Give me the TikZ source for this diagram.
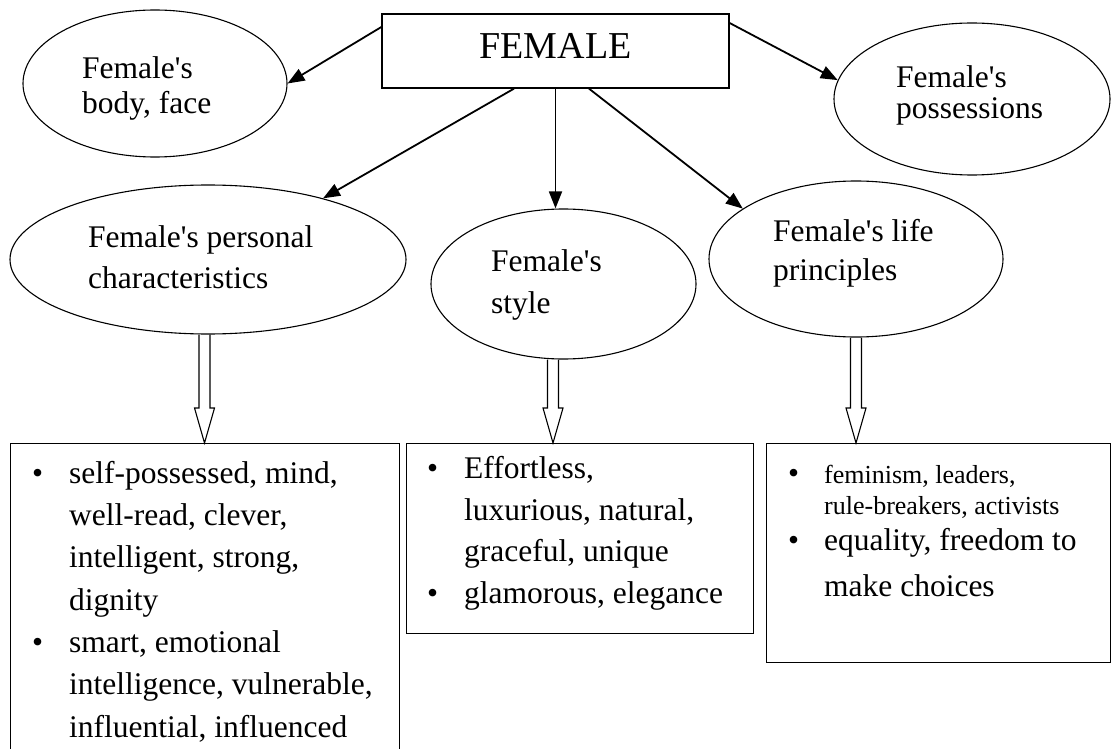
\documentclass[tikz,border=0pt]{standalone}
\usepackage{fontspec}
\setmainfont{Liberation Serif}
\usetikzlibrary{shapes.geometric, arrows.meta, calc, positioning}
\tikzset{
    oval/.style={ellipse, draw, line width=1.1pt, inner sep=0pt},
    hub/.style={rectangle, draw, line width=1.3pt, inner sep=0pt},
    listbox/.style={rectangle, draw, line width=1.3pt, inner sep=0pt, anchor=north west},
    lbl/.style={anchor=base west, align=left, inner sep=0pt},% base = last line
    link/.style={line width=1.8pt, -{Triangle[length=17pt,width=13pt]}},
    hollow arrow/.style={line width=1.1pt},
    }
\newcommand{\bul}{\makebox[37pt][l]{\textbullet}}
\newcommand{\ind}{\hspace*{37pt}}
\newcommand{\fem}{Female\textquotesingle s}

\begin{document}
\begin{tikzpicture}[x=1pt, y=-1pt]
\useasboundingbox (0,0) rectangle (1112,749);

% top box and the five ovals
\node[hub, minimum width=347pt, minimum height=74pt, text depth=10pt,
      font=\fontsize{38}{40}\selectfont] (female) at (555.5,51) {FEMALE};
\node[oval, minimum width=264pt, minimum height=147pt] (body) at (155,83.5) {};
\node[oval, minimum width=276pt, minimum height=152pt] (poss) at (972,99) {};
\node[oval, minimum width=396pt, minimum height=149pt] (pers) at (208,259.5) {};
\node[oval, minimum width=265pt, minimum height=150pt] (style) at (563.5,284) {};
\node[oval, minimum width=294pt, minimum height=156pt] (life) at (856,259) {};

\node[lbl, font=\fontsize{31.5}{35}\selectfont] (bodytxt) at (82,114) {\fem\\body, face};
\node[lbl, font=\fontsize{31.5}{31}\selectfont] (posstxt) at (896,119) {\fem\\possessions};
\node[lbl, font=\fontsize{31.5}{41}\selectfont] (perstxt) at (88,288) {\fem{} personal\\characteristics};
\node[lbl, font=\fontsize{31.5}{42}\selectfont] (styletxt) at (491,313) {\fem\\style};
\node[lbl, font=\fontsize{31.5}{39}\selectfont] (lifetxt) at (773,280) {\fem{} life\\principles};

\draw[link] ([yshift=24pt]female.west) -- (body.east);
\draw[link] ([xshift=-41.5pt]female.south) -- (pers.28);
\draw[link] (female.south) -- (female.south |- style.north);
\draw[link] ([xshift=33.5pt]female.south) -- (life.156);
\draw[link] ([yshift=28pt]female.east) -- (poss.172);

% lists
\node[listbox, minimum width=389pt, minimum height=330pt] (box1) at (10,443) {};
\node[listbox, minimum width=347pt, minimum height=190pt] (box2) at (406,443) {};
\node[listbox, minimum width=344pt, minimum height=219pt] (box3) at (766,443) {};

\node[lbl, font=\fontsize{31.5}{42.3}\selectfont] (list1) at (32,737)
  {\bul self-possessed, mind,\\ \ind well-read, clever,\\ \ind intelligent, strong,\\ \ind dignity\\
   \bul smart, emotional\\ \ind intelligence, vulnerable,\\ \ind influential, influenced};
\node[lbl, font=\fontsize{31.5}{41.5}\selectfont] (list2) at (427,603)
  {\bul Effortless,\\ \ind luxurious, natural,\\ \ind graceful, unique\\ \bul glamorous, elegance};
\node[lbl, font=\fontsize{26}{31}\selectfont] (list3a) at (788,514)
  {\makebox[36pt][l]{\fontsize{31.5}{31}\selectfont\textbullet}feminism, leaders,\\ \hspace*{36pt}rule-breakers, activists};
\node[lbl, font=\fontsize{31.5}{46}\selectfont] (list3b) at (788,596)
  {\makebox[36pt][l]{\textbullet}equality, freedom to\\ \hspace*{36pt}make choices};

% hollow block arrows
\foreach \src/\dst/\dx in {pers/box1/-3.5, style/box2/-10.5, life/box3/0}{
  \coordinate (top) at ([xshift=\dx pt]\src.south);
  \coordinate (tip) at (top |- \dst.north);
  \draw[hollow arrow] ($(top)+(-5.5,0)$) -- ($(tip)+(-5.5,-35)$) -- ++(-4.5,0) -- (tip)
     -- ($(tip)+(10,-35)$) -- ++(-4.5,0) -- ($(top)+(5.5,0)$);
}
\end{tikzpicture}
\end{document}
